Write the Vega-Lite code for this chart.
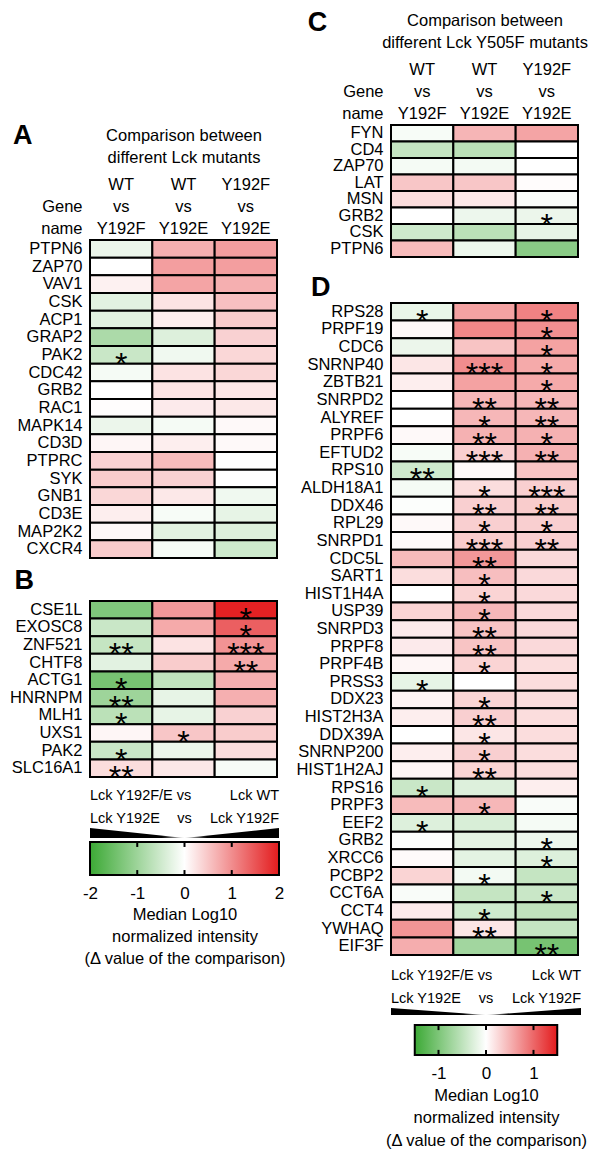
{
  "$schema": "https://vega.github.io/schema/vega-lite/v6.json",
  "padding": {"left": 9, "top": 9, "right": 0, "bottom": 0},
  "background": "white",
  "config": {
    "view": {"stroke": null},
    "font": "Liberation Sans",
    "axis": {"labelFont": "Liberation Sans", "titleFont": "Liberation Sans", "labelFontSize": 16.5, "titleFontSize": 16.5, "titleFontWeight": "normal", "labelColor": "#000", "titleColor": "#000", "ticks": false, "tickSize": 0, "domain": false, "grid": false, "labelOverlap": false},
    "title": {"font": "Liberation Sans", "fontSize": 27, "fontWeight": "bold", "anchor": "start", "frame": "bounds", "color": "#000"},
    "text": {"font": "Liberation Sans", "color": "#000"}
  },
  "datasets": {
    "A": [
      {"gene":"PTPN6","comp":"WT|vs|Y192F","value":-0.2,"stars":""},{"gene":"PTPN6","comp":"WT|vs|Y192E","value":0.7,"stars":""},{"gene":"PTPN6","comp":"Y192F|vs|Y192E","value":0.85,"stars":""},
      {"gene":"ZAP70","comp":"WT|vs|Y192F","value":0,"stars":""},{"gene":"ZAP70","comp":"WT|vs|Y192E","value":0.85,"stars":""},{"gene":"ZAP70","comp":"Y192F|vs|Y192E","value":0.85,"stars":""},
      {"gene":"VAV1","comp":"WT|vs|Y192F","value":0.12,"stars":""},{"gene":"VAV1","comp":"WT|vs|Y192E","value":0.8,"stars":""},{"gene":"VAV1","comp":"Y192F|vs|Y192E","value":0.7,"stars":""},
      {"gene":"CSK","comp":"WT|vs|Y192F","value":-0.3,"stars":""},{"gene":"CSK","comp":"WT|vs|Y192E","value":0.25,"stars":""},{"gene":"CSK","comp":"Y192F|vs|Y192E","value":0.55,"stars":""},
      {"gene":"ACP1","comp":"WT|vs|Y192F","value":-0.3,"stars":""},{"gene":"ACP1","comp":"WT|vs|Y192E","value":0.15,"stars":""},{"gene":"ACP1","comp":"Y192F|vs|Y192E","value":0.45,"stars":""},
      {"gene":"GRAP2","comp":"WT|vs|Y192F","value":-0.85,"stars":""},{"gene":"GRAP2","comp":"WT|vs|Y192E","value":-0.35,"stars":""},{"gene":"GRAP2","comp":"Y192F|vs|Y192E","value":0.4,"stars":""},
      {"gene":"PAK2","comp":"WT|vs|Y192F","value":-0.55,"stars":"*"},{"gene":"PAK2","comp":"WT|vs|Y192E","value":-0.15,"stars":""},{"gene":"PAK2","comp":"Y192F|vs|Y192E","value":0.35,"stars":""},
      {"gene":"CDC42","comp":"WT|vs|Y192F","value":-0.1,"stars":""},{"gene":"CDC42","comp":"WT|vs|Y192E","value":0.25,"stars":""},{"gene":"CDC42","comp":"Y192F|vs|Y192E","value":0.35,"stars":""},
      {"gene":"GRB2","comp":"WT|vs|Y192F","value":0,"stars":""},{"gene":"GRB2","comp":"WT|vs|Y192E","value":0.25,"stars":""},{"gene":"GRB2","comp":"Y192F|vs|Y192E","value":0.22,"stars":""},
      {"gene":"RAC1","comp":"WT|vs|Y192F","value":0.02,"stars":""},{"gene":"RAC1","comp":"WT|vs|Y192E","value":0.18,"stars":""},{"gene":"RAC1","comp":"Y192F|vs|Y192E","value":0.2,"stars":""},
      {"gene":"MAPK14","comp":"WT|vs|Y192F","value":-0.2,"stars":""},{"gene":"MAPK14","comp":"WT|vs|Y192E","value":-0.1,"stars":""},{"gene":"MAPK14","comp":"Y192F|vs|Y192E","value":0.05,"stars":""},
      {"gene":"CD3D","comp":"WT|vs|Y192F","value":0.08,"stars":""},{"gene":"CD3D","comp":"WT|vs|Y192E","value":0.15,"stars":""},{"gene":"CD3D","comp":"Y192F|vs|Y192E","value":0.05,"stars":""},
      {"gene":"PTPRC","comp":"WT|vs|Y192F","value":0.4,"stars":""},{"gene":"PTPRC","comp":"WT|vs|Y192E","value":0.6,"stars":""},{"gene":"PTPRC","comp":"Y192F|vs|Y192E","value":0,"stars":""},
      {"gene":"SYK","comp":"WT|vs|Y192F","value":0.45,"stars":""},{"gene":"SYK","comp":"WT|vs|Y192E","value":0.4,"stars":""},{"gene":"SYK","comp":"Y192F|vs|Y192E","value":0,"stars":""},
      {"gene":"GNB1","comp":"WT|vs|Y192F","value":0.35,"stars":""},{"gene":"GNB1","comp":"WT|vs|Y192E","value":0.2,"stars":""},{"gene":"GNB1","comp":"Y192F|vs|Y192E","value":-0.15,"stars":""},
      {"gene":"CD3E","comp":"WT|vs|Y192F","value":0.15,"stars":""},{"gene":"CD3E","comp":"WT|vs|Y192E","value":-0.08,"stars":""},{"gene":"CD3E","comp":"Y192F|vs|Y192E","value":-0.25,"stars":""},
      {"gene":"MAP2K2","comp":"WT|vs|Y192F","value":0.06,"stars":""},{"gene":"MAP2K2","comp":"WT|vs|Y192E","value":-0.3,"stars":""},{"gene":"MAP2K2","comp":"Y192F|vs|Y192E","value":-0.35,"stars":""},
      {"gene":"CXCR4","comp":"WT|vs|Y192F","value":0.45,"stars":""},{"gene":"CXCR4","comp":"WT|vs|Y192E","value":-0.08,"stars":""},{"gene":"CXCR4","comp":"Y192F|vs|Y192E","value":-0.5,"stars":""}
    ],
    "B": [
      {"gene":"CSE1L","comp":"WT|vs|Y192F","value":-1.3,"stars":""},{"gene":"CSE1L","comp":"WT|vs|Y192E","value":0.9,"stars":""},{"gene":"CSE1L","comp":"Y192F|vs|Y192E","value":1.95,"stars":"*"},
      {"gene":"EXOSC8","comp":"WT|vs|Y192F","value":-0.55,"stars":""},{"gene":"EXOSC8","comp":"WT|vs|Y192E","value":0.75,"stars":""},{"gene":"EXOSC8","comp":"Y192F|vs|Y192E","value":1.4,"stars":"*"},
      {"gene":"ZNF521","comp":"WT|vs|Y192F","value":-0.6,"stars":"**"},{"gene":"ZNF521","comp":"WT|vs|Y192E","value":0.25,"stars":""},{"gene":"ZNF521","comp":"Y192F|vs|Y192E","value":0.95,"stars":"***"},
      {"gene":"CHTF8","comp":"WT|vs|Y192F","value":-0.3,"stars":""},{"gene":"CHTF8","comp":"WT|vs|Y192E","value":0.45,"stars":""},{"gene":"CHTF8","comp":"Y192F|vs|Y192E","value":0.75,"stars":"**"},
      {"gene":"ACTG1","comp":"WT|vs|Y192F","value":-1.4,"stars":"*"},{"gene":"ACTG1","comp":"WT|vs|Y192E","value":-0.65,"stars":""},{"gene":"ACTG1","comp":"Y192F|vs|Y192E","value":0.7,"stars":""},
      {"gene":"HNRNPM","comp":"WT|vs|Y192F","value":-1.0,"stars":"**"},{"gene":"HNRNPM","comp":"WT|vs|Y192E","value":-0.25,"stars":""},{"gene":"HNRNPM","comp":"Y192F|vs|Y192E","value":0.7,"stars":""},
      {"gene":"MLH1","comp":"WT|vs|Y192F","value":-0.7,"stars":"*"},{"gene":"MLH1","comp":"WT|vs|Y192E","value":-0.25,"stars":""},{"gene":"MLH1","comp":"Y192F|vs|Y192E","value":0.4,"stars":""},
      {"gene":"UXS1","comp":"WT|vs|Y192F","value":0.08,"stars":""},{"gene":"UXS1","comp":"WT|vs|Y192E","value":0.5,"stars":"*"},{"gene":"UXS1","comp":"Y192F|vs|Y192E","value":0.45,"stars":""},
      {"gene":"PAK2","comp":"WT|vs|Y192F","value":-0.55,"stars":"*"},{"gene":"PAK2","comp":"WT|vs|Y192E","value":-0.2,"stars":""},{"gene":"PAK2","comp":"Y192F|vs|Y192E","value":0.3,"stars":""},
      {"gene":"SLC16A1","comp":"WT|vs|Y192F","value":0.3,"stars":"**"},{"gene":"SLC16A1","comp":"WT|vs|Y192E","value":0.2,"stars":""},{"gene":"SLC16A1","comp":"Y192F|vs|Y192E","value":-0.08,"stars":""}
    ],
    "C": [
      {"gene":"FYN","comp":"WT|vs|Y192F","value":-0.08,"stars":""},{"gene":"FYN","comp":"WT|vs|Y192E","value":0.65,"stars":""},{"gene":"FYN","comp":"Y192F|vs|Y192E","value":0.8,"stars":""},
      {"gene":"CD4","comp":"WT|vs|Y192F","value":-0.6,"stars":""},{"gene":"CD4","comp":"WT|vs|Y192E","value":-0.7,"stars":""},{"gene":"CD4","comp":"Y192F|vs|Y192E","value":0,"stars":""},
      {"gene":"ZAP70","comp":"WT|vs|Y192F","value":-0.1,"stars":""},{"gene":"ZAP70","comp":"WT|vs|Y192E","value":-0.12,"stars":""},{"gene":"ZAP70","comp":"Y192F|vs|Y192E","value":0,"stars":""},
      {"gene":"LAT","comp":"WT|vs|Y192F","value":0.5,"stars":""},{"gene":"LAT","comp":"WT|vs|Y192E","value":0.5,"stars":""},{"gene":"LAT","comp":"Y192F|vs|Y192E","value":0.03,"stars":""},
      {"gene":"MSN","comp":"WT|vs|Y192F","value":0.3,"stars":""},{"gene":"MSN","comp":"WT|vs|Y192E","value":0.2,"stars":""},{"gene":"MSN","comp":"Y192F|vs|Y192E","value":-0.06,"stars":""},
      {"gene":"GRB2","comp":"WT|vs|Y192F","value":0,"stars":""},{"gene":"GRB2","comp":"WT|vs|Y192E","value":-0.18,"stars":""},{"gene":"GRB2","comp":"Y192F|vs|Y192E","value":-0.2,"stars":"*"},
      {"gene":"CSK","comp":"WT|vs|Y192F","value":-0.5,"stars":""},{"gene":"CSK","comp":"WT|vs|Y192E","value":-0.7,"stars":""},{"gene":"CSK","comp":"Y192F|vs|Y192E","value":-0.25,"stars":""},
      {"gene":"PTPN6","comp":"WT|vs|Y192F","value":0.6,"stars":""},{"gene":"PTPN6","comp":"WT|vs|Y192E","value":-0.18,"stars":""},{"gene":"PTPN6","comp":"Y192F|vs|Y192E","value":-1.2,"stars":""}
    ],
    "D": [
      {"gene":"RPS28","comp":"WT|vs|Y192F","value":-0.22,"stars":"*"},{"gene":"RPS28","comp":"WT|vs|Y192E","value":0.82,"stars":""},{"gene":"RPS28","comp":"Y192F|vs|Y192E","value":1.1,"stars":"*"},
      {"gene":"PRPF19","comp":"WT|vs|Y192F","value":0.06,"stars":""},{"gene":"PRPF19","comp":"WT|vs|Y192E","value":1.05,"stars":""},{"gene":"PRPF19","comp":"Y192F|vs|Y192E","value":0.98,"stars":"*"},
      {"gene":"CDC6","comp":"WT|vs|Y192F","value":-0.2,"stars":""},{"gene":"CDC6","comp":"WT|vs|Y192E","value":0.52,"stars":""},{"gene":"CDC6","comp":"Y192F|vs|Y192E","value":0.82,"stars":"*"},
      {"gene":"SNRNP40","comp":"WT|vs|Y192F","value":0.22,"stars":""},{"gene":"SNRNP40","comp":"WT|vs|Y192E","value":1.0,"stars":"***"},{"gene":"SNRNP40","comp":"Y192F|vs|Y192E","value":0.75,"stars":"*"},
      {"gene":"ZBTB21","comp":"WT|vs|Y192F","value":0.15,"stars":""},{"gene":"ZBTB21","comp":"WT|vs|Y192E","value":0.82,"stars":""},{"gene":"ZBTB21","comp":"Y192F|vs|Y192E","value":0.75,"stars":"*"},
      {"gene":"SNRPD2","comp":"WT|vs|Y192F","value":0,"stars":""},{"gene":"SNRPD2","comp":"WT|vs|Y192E","value":0.63,"stars":"**"},{"gene":"SNRPD2","comp":"Y192F|vs|Y192E","value":0.63,"stars":"**"},
      {"gene":"ALYREF","comp":"WT|vs|Y192F","value":0,"stars":""},{"gene":"ALYREF","comp":"WT|vs|Y192E","value":0.63,"stars":"*"},{"gene":"ALYREF","comp":"Y192F|vs|Y192E","value":0.63,"stars":"**"},
      {"gene":"PRPF6","comp":"WT|vs|Y192F","value":0.05,"stars":""},{"gene":"PRPF6","comp":"WT|vs|Y192E","value":0.68,"stars":"**"},{"gene":"PRPF6","comp":"Y192F|vs|Y192E","value":0.68,"stars":"*"},
      {"gene":"EFTUD2","comp":"WT|vs|Y192F","value":-0.08,"stars":""},{"gene":"EFTUD2","comp":"WT|vs|Y192E","value":0.42,"stars":"***"},{"gene":"EFTUD2","comp":"Y192F|vs|Y192E","value":0.68,"stars":"**"},
      {"gene":"RPS10","comp":"WT|vs|Y192F","value":-0.5,"stars":"**"},{"gene":"RPS10","comp":"WT|vs|Y192E","value":0.05,"stars":""},{"gene":"RPS10","comp":"Y192F|vs|Y192E","value":0.52,"stars":""},
      {"gene":"ALDH18A1","comp":"WT|vs|Y192F","value":-0.1,"stars":""},{"gene":"ALDH18A1","comp":"WT|vs|Y192E","value":0.3,"stars":"*"},{"gene":"ALDH18A1","comp":"Y192F|vs|Y192E","value":0.42,"stars":"***"},
      {"gene":"DDX46","comp":"WT|vs|Y192F","value":-0.03,"stars":""},{"gene":"DDX46","comp":"WT|vs|Y192E","value":0.42,"stars":"**"},{"gene":"DDX46","comp":"Y192F|vs|Y192E","value":0.45,"stars":"**"},
      {"gene":"RPL29","comp":"WT|vs|Y192F","value":0.05,"stars":""},{"gene":"RPL29","comp":"WT|vs|Y192E","value":0.42,"stars":"*"},{"gene":"RPL29","comp":"Y192F|vs|Y192E","value":0.42,"stars":"*"},
      {"gene":"SNRPD1","comp":"WT|vs|Y192F","value":0.04,"stars":""},{"gene":"SNRPD1","comp":"WT|vs|Y192E","value":0.45,"stars":"***"},{"gene":"SNRPD1","comp":"Y192F|vs|Y192E","value":0.42,"stars":"**"},
      {"gene":"CDC5L","comp":"WT|vs|Y192F","value":0.6,"stars":""},{"gene":"CDC5L","comp":"WT|vs|Y192E","value":0.9,"stars":"**"},{"gene":"CDC5L","comp":"Y192F|vs|Y192E","value":0.33,"stars":""},
      {"gene":"SART1","comp":"WT|vs|Y192F","value":0.3,"stars":""},{"gene":"SART1","comp":"WT|vs|Y192E","value":0.57,"stars":"*"},{"gene":"SART1","comp":"Y192F|vs|Y192E","value":0.33,"stars":""},
      {"gene":"HIST1H4A","comp":"WT|vs|Y192F","value":0,"stars":""},{"gene":"HIST1H4A","comp":"WT|vs|Y192E","value":0.38,"stars":"*"},{"gene":"HIST1H4A","comp":"Y192F|vs|Y192E","value":0.33,"stars":""},
      {"gene":"USP39","comp":"WT|vs|Y192F","value":0.38,"stars":""},{"gene":"USP39","comp":"WT|vs|Y192E","value":0.63,"stars":"*"},{"gene":"USP39","comp":"Y192F|vs|Y192E","value":0.33,"stars":""},
      {"gene":"SNRPD3","comp":"WT|vs|Y192F","value":0.18,"stars":""},{"gene":"SNRPD3","comp":"WT|vs|Y192E","value":0.52,"stars":"**"},{"gene":"SNRPD3","comp":"Y192F|vs|Y192E","value":0.33,"stars":""},
      {"gene":"PRPF8","comp":"WT|vs|Y192F","value":0.18,"stars":""},{"gene":"PRPF8","comp":"WT|vs|Y192E","value":0.52,"stars":"**"},{"gene":"PRPF8","comp":"Y192F|vs|Y192E","value":0.33,"stars":""},
      {"gene":"PRPF4B","comp":"WT|vs|Y192F","value":0.08,"stars":""},{"gene":"PRPF4B","comp":"WT|vs|Y192E","value":0.38,"stars":"*"},{"gene":"PRPF4B","comp":"Y192F|vs|Y192E","value":0.3,"stars":""},
      {"gene":"PRSS3","comp":"WT|vs|Y192F","value":-0.25,"stars":"*"},{"gene":"PRSS3","comp":"WT|vs|Y192E","value":0,"stars":""},{"gene":"PRSS3","comp":"Y192F|vs|Y192E","value":0.3,"stars":""},
      {"gene":"DDX23","comp":"WT|vs|Y192F","value":0.1,"stars":""},{"gene":"DDX23","comp":"WT|vs|Y192E","value":0.38,"stars":"*"},{"gene":"DDX23","comp":"Y192F|vs|Y192E","value":0.3,"stars":""},
      {"gene":"HIST2H3A","comp":"WT|vs|Y192F","value":0.15,"stars":""},{"gene":"HIST2H3A","comp":"WT|vs|Y192E","value":0.42,"stars":"**"},{"gene":"HIST2H3A","comp":"Y192F|vs|Y192E","value":0.3,"stars":""},
      {"gene":"DDX39A","comp":"WT|vs|Y192F","value":0,"stars":""},{"gene":"DDX39A","comp":"WT|vs|Y192E","value":0.22,"stars":"*"},{"gene":"DDX39A","comp":"Y192F|vs|Y192E","value":0.3,"stars":""},
      {"gene":"SNRNP200","comp":"WT|vs|Y192F","value":0.15,"stars":""},{"gene":"SNRNP200","comp":"WT|vs|Y192E","value":0.42,"stars":"*"},{"gene":"SNRNP200","comp":"Y192F|vs|Y192E","value":0.3,"stars":""},
      {"gene":"HIST1H2AJ","comp":"WT|vs|Y192F","value":0.08,"stars":""},{"gene":"HIST1H2AJ","comp":"WT|vs|Y192E","value":0.38,"stars":"**"},{"gene":"HIST1H2AJ","comp":"Y192F|vs|Y192E","value":0.3,"stars":""},
      {"gene":"RPS16","comp":"WT|vs|Y192F","value":-0.55,"stars":"*"},{"gene":"RPS16","comp":"WT|vs|Y192E","value":-0.35,"stars":""},{"gene":"RPS16","comp":"Y192F|vs|Y192E","value":0.15,"stars":""},
      {"gene":"PRPF3","comp":"WT|vs|Y192F","value":0.6,"stars":""},{"gene":"PRPF3","comp":"WT|vs|Y192E","value":0.63,"stars":"*"},{"gene":"PRPF3","comp":"Y192F|vs|Y192E","value":-0.06,"stars":""},
      {"gene":"EEF2","comp":"WT|vs|Y192F","value":-0.35,"stars":"*"},{"gene":"EEF2","comp":"WT|vs|Y192E","value":-0.4,"stars":""},{"gene":"EEF2","comp":"Y192F|vs|Y192E","value":-0.1,"stars":""},
      {"gene":"GRB2","comp":"WT|vs|Y192F","value":-0.03,"stars":""},{"gene":"GRB2","comp":"WT|vs|Y192E","value":-0.28,"stars":""},{"gene":"GRB2","comp":"Y192F|vs|Y192E","value":-0.18,"stars":"*"},
      {"gene":"XRCC6","comp":"WT|vs|Y192F","value":0.04,"stars":""},{"gene":"XRCC6","comp":"WT|vs|Y192E","value":-0.28,"stars":""},{"gene":"XRCC6","comp":"Y192F|vs|Y192E","value":-0.35,"stars":"*"},
      {"gene":"PCBP2","comp":"WT|vs|Y192F","value":0.38,"stars":""},{"gene":"PCBP2","comp":"WT|vs|Y192E","value":-0.12,"stars":"*"},{"gene":"PCBP2","comp":"Y192F|vs|Y192E","value":-0.6,"stars":""},
      {"gene":"CCT6A","comp":"WT|vs|Y192F","value":-0.06,"stars":""},{"gene":"CCT6A","comp":"WT|vs|Y192E","value":-0.6,"stars":""},{"gene":"CCT6A","comp":"Y192F|vs|Y192E","value":-0.55,"stars":"*"},
      {"gene":"CCT4","comp":"WT|vs|Y192F","value":0.18,"stars":""},{"gene":"CCT4","comp":"WT|vs|Y192E","value":-0.5,"stars":"*"},{"gene":"CCT4","comp":"Y192F|vs|Y192E","value":-0.65,"stars":""},
      {"gene":"YWHAQ","comp":"WT|vs|Y192F","value":0.93,"stars":""},{"gene":"YWHAQ","comp":"WT|vs|Y192E","value":0.22,"stars":"**"},{"gene":"YWHAQ","comp":"Y192F|vs|Y192E","value":-0.6,"stars":""},
      {"gene":"EIF3F","comp":"WT|vs|Y192F","value":0.72,"stars":""},{"gene":"EIF3F","comp":"WT|vs|Y192E","value":-0.95,"stars":""},{"gene":"EIF3F","comp":"Y192F|vs|Y192E","value":-1.4,"stars":"**"}
    ],
    "legendText": [
      {"side":"left","line":1,"label":"Lck Y192F/E vs"},
      {"side":"right","line":1,"label":"Lck WT"},
      {"side":"left","line":2,"label":"Lck Y192E"},
      {"side":"center","line":2,"label":"vs"},
      {"side":"right","line":2,"label":"Lck Y192F"}
    ],
    "wedge": [{"pos":-1,"h":1},{"pos":0,"h":0},{"pos":1,"h":1}],
    "barB": [{"lo":-2,"hi":2}],
    "barD": [{"lo":-1.5,"hi":1.5}],
    "ticks": [{"t":-1},{"t":0},{"t":1}],
    "empty": []
  },
  "spacing": 9,
  "resolve": {"scale": {"color": "independent", "x": "independent", "y": "independent"}},
  "hconcat": [
    {
      "bounds": "flush",
      "spacing": 0,
      "resolve": {"scale": {"color": "independent", "x": "independent", "y": "independent"}},
      "vconcat": [
        {"width": 189, "height": 115, "data": {"name": "empty"}, "mark": "point"},
        {
          "width": 187, "height": 318,
          "data": {"name": "A"},
          "title": {"text": "A", "offset": 0, "dy": 23, "dx": -4},
          "encoding": {
            "x": {"field": "comp", "type": "nominal", "sort": null, "scale": {"paddingInner": 0, "paddingOuter": 0},
              "axis": {"orient": "top", "title": ["Comparison between", "different Lck mutants"], "labelExpr": "split(datum.label, '|')", "labelAngle": 0, "labelLineHeight": 22, "labelBaseline": "top", "labelPadding": 63.5, "titlePadding": 11.5, "titleLineHeight": 22}},
            "y": {"field": "gene", "type": "nominal", "sort": null, "scale": {"paddingInner": 0, "paddingOuter": 0},
              "axis": {"title": ["Gene", "name"], "titleAngle": 0, "titleAlign": "right", "titleBaseline": "top", "titleX": -8, "titleY": -41.5, "titleLineHeight": 22, "labelPadding": 8}}
          },
          "layer": [
            {"mark": {"type": "rect", "stroke": "#000", "strokeWidth": 2}, "encoding": {"fill": {"field": "value", "type": "quantitative", "scale": {"domain": [-2, 0, 2], "range": ["#3ca935", "#ffffff", "#e31b1d"], "clamp": true, "interpolate": "rgb"}, "legend": null}}},
            {"mark": {"type": "text", "fontSize": 32, "baseline": "alphabetic", "dy": 20}, "encoding": {"text": {"field": "stars"}}}
          ]
        },
        {"width": 189, "height": 43, "data": {"name": "empty"}, "mark": "point"},
        {
          "width": 187, "height": 176,
          "data": {"name": "B"},
          "title": {"text": "B", "offset": 5, "dx": 5},
          "encoding": {
            "x": {"field": "comp", "type": "nominal", "sort": null, "scale": {"paddingInner": 0, "paddingOuter": 0}, "axis": null},
            "y": {"field": "gene", "type": "nominal", "sort": null, "scale": {"paddingInner": 0, "paddingOuter": 0}, "axis": {"title": null, "labelPadding": 8}}
          },
          "layer": [
            {"mark": {"type": "rect", "stroke": "#000", "strokeWidth": 2}, "encoding": {"fill": {"field": "value", "type": "quantitative", "scale": {"domain": [-2, 0, 2], "range": ["#3ca935", "#ffffff", "#e31b1d"], "clamp": true, "interpolate": "rgb"}, "legend": null}}},
            {"mark": {"type": "text", "fontSize": 32, "baseline": "alphabetic", "dy": 20}, "encoding": {"text": {"field": "stars"}}}
          ]
        },
        {"width": 189, "height": 12.25, "data": {"name": "empty"}, "mark": "point"},
        {
          "width": 189, "height": 34.5,
          "data": {"name": "legendText"},
          "encoding": {"y": {"field": "line", "type": "ordinal", "scale": {"type": "point", "padding": 0.25}, "axis": null}, "text": {"field": "label"}},
          "layer": [
            {"transform": [{"filter": "datum.side == 'left'"}], "mark": {"type": "text", "align": "left", "fontSize": 14.5}, "encoding": {"x": {"datum": -1, "type": "quantitative", "scale": {"domain": [-1, 1]}, "axis": null}}},
            {"transform": [{"filter": "datum.side == 'center'"}], "mark": {"type": "text", "align": "center", "fontSize": 14.5}, "encoding": {"x": {"datum": 0, "type": "quantitative", "scale": {"domain": [-1, 1]}, "axis": null}}},
            {"transform": [{"filter": "datum.side == 'right'"}], "mark": {"type": "text", "align": "right", "fontSize": 14.5}, "encoding": {"x": {"datum": 1, "type": "quantitative", "scale": {"domain": [-1, 1]}, "axis": null}}}
          ]
        },
        {"width": 189, "height": 2.25, "data": {"name": "empty"}, "mark": "point"},
        {
          "width": 189, "height": 10,
          "data": {"name": "wedge"},
          "mark": {"type": "area", "fill": {"gradient": "linear", "x1": 0, "y1": 0, "x2": 1, "y2": 0, "stops": [{"offset": 0, "color": "#000000"}, {"offset": 0.38, "color": "#000000"}, {"offset": 0.5, "color": "#dddddd"}, {"offset": 0.62, "color": "#000000"}, {"offset": 1, "color": "#000000"}]}},
          "encoding": {
            "x": {"field": "pos", "type": "quantitative", "scale": {"domain": [-1, 1]}, "axis": null},
            "y": {"field": "h", "type": "quantitative", "scale": {"domain": [0, 1]}, "axis": null}
          }
        },
        {"width": 189, "height": 4, "data": {"name": "empty"}, "mark": "point"},
        {
          "width": 189, "height": 33,
          "layer": [
            {
              "data": {"name": "barB"},
              "mark": {"type": "rect", "stroke": "#000", "strokeWidth": 2, "fill": {"gradient": "linear", "x1": 0, "y1": 0, "x2": 1, "y2": 0, "stops": [{"offset": 0, "color": "#3ca935"}, {"offset": 0.5, "color": "#ffffff"}, {"offset": 1, "color": "#e31b1d"}]}},
              "encoding": {
                "x": {"field": "lo", "type": "quantitative", "scale": {"domain": [-2, 2]},
                  "axis": {"orient": "bottom", "values": [-2, -1, 0, 1, 2], "labelExpr": "'' + datum.value", "labelFontSize": 17, "labelPadding": 10, "labelFlush": false, "title": ["Median Log10", "normalized intensity", "(Δ value of the comparison)"], "titlePadding": 5, "titleLineHeight": 22}},
                "x2": {"field": "hi"},
                "y": {"datum": 0, "type": "quantitative", "scale": {"domain": [0, 1]}, "axis": null},
                "y2": {"datum": 1}
              }
            },
            {"data": {"name": "ticks"}, "mark": {"type": "rule", "color": "#000", "strokeWidth": 2}, "encoding": {"x": {"field": "t", "type": "quantitative"}, "y": {"datum": 0, "type": "quantitative"}, "y2": {"datum": 0.15}}},
            {"data": {"name": "ticks"}, "mark": {"type": "rule", "color": "#000", "strokeWidth": 2}, "encoding": {"x": {"field": "t", "type": "quantitative"}, "y": {"datum": 0.85, "type": "quantitative"}, "y2": {"datum": 1}}}
          ]
        }
      ]
    },
    {
      "bounds": "flush",
      "spacing": 0,
      "resolve": {"scale": {"color": "independent", "x": "independent", "y": "independent"}},
      "vconcat": [
        {
          "width": 187, "height": 132,
          "data": {"name": "C"},
          "title": {"text": "C", "offset": 0, "dy": 25, "dx": -22},
          "encoding": {
            "x": {"field": "comp", "type": "nominal", "sort": null, "scale": {"paddingInner": 0, "paddingOuter": 0},
              "axis": {"orient": "top", "title": ["Comparison between", "different Lck Y505F mutants"], "labelExpr": "split(datum.label, '|')", "labelAngle": 0, "labelLineHeight": 22, "labelBaseline": "top", "labelPadding": 63.5, "titlePadding": 11.5, "titleLineHeight": 22}},
            "y": {"field": "gene", "type": "nominal", "sort": null, "scale": {"paddingInner": 0, "paddingOuter": 0},
              "axis": {"title": ["Gene", "name"], "titleAngle": 0, "titleAlign": "right", "titleBaseline": "top", "titleX": -8, "titleY": -41.5, "titleLineHeight": 22, "labelPadding": 8}}
          },
          "layer": [
            {"mark": {"type": "rect", "stroke": "#000", "strokeWidth": 2}, "encoding": {"fill": {"field": "value", "type": "quantitative", "scale": {"domain": [-2, 0, 2], "range": ["#3ca935", "#ffffff", "#e31b1d"], "clamp": true, "interpolate": "rgb"}, "legend": null}}},
            {"mark": {"type": "text", "fontSize": 32, "baseline": "alphabetic", "dy": 20}, "encoding": {"text": {"field": "stars"}}}
          ]
        },
        {"width": 190, "height": 46, "data": {"name": "empty"}, "mark": "point"},
        {
          "width": 187, "height": 652,
          "data": {"name": "D"},
          "title": {"text": "D", "offset": 0, "dx": 15},
          "encoding": {
            "x": {"field": "comp", "type": "nominal", "sort": null, "scale": {"paddingInner": 0, "paddingOuter": 0}, "axis": null},
            "y": {"field": "gene", "type": "nominal", "sort": null, "scale": {"paddingInner": 0, "paddingOuter": 0}, "axis": {"title": null, "labelPadding": 8}}
          },
          "layer": [
            {"mark": {"type": "rect", "stroke": "#000", "strokeWidth": 2}, "encoding": {"fill": {"field": "value", "type": "quantitative", "scale": {"domain": [-1.5, 0, 1.5], "range": ["#3ca935", "#ffffff", "#e31b1d"], "clamp": true, "interpolate": "rgb"}, "legend": null}}},
            {"mark": {"type": "text", "fontSize": 32, "baseline": "alphabetic", "dy": 20}, "encoding": {"text": {"field": "stars"}}}
          ]
        },
        {"width": 190, "height": 14.25, "data": {"name": "empty"}, "mark": "point"},
        {
          "width": 190, "height": 34.5,
          "data": {"name": "legendText"},
          "encoding": {"y": {"field": "line", "type": "ordinal", "scale": {"type": "point", "padding": 0.25}, "axis": null}, "text": {"field": "label"}},
          "layer": [
            {"transform": [{"filter": "datum.side == 'left'"}], "mark": {"type": "text", "align": "left", "fontSize": 14.5}, "encoding": {"x": {"datum": -1, "type": "quantitative", "scale": {"domain": [-1, 1]}, "axis": null}}},
            {"transform": [{"filter": "datum.side == 'center'"}], "mark": {"type": "text", "align": "center", "fontSize": 14.5}, "encoding": {"x": {"datum": 0, "type": "quantitative", "scale": {"domain": [-1, 1]}, "axis": null}}},
            {"transform": [{"filter": "datum.side == 'right'"}], "mark": {"type": "text", "align": "right", "fontSize": 14.5}, "encoding": {"x": {"datum": 1, "type": "quantitative", "scale": {"domain": [-1, 1]}, "axis": null}}}
          ]
        },
        {"width": 190, "height": 3, "data": {"name": "empty"}, "mark": "point"},
        {
          "width": 190, "height": 7,
          "data": {"name": "wedge"},
          "mark": {"type": "area", "fill": {"gradient": "linear", "x1": 0, "y1": 0, "x2": 1, "y2": 0, "stops": [{"offset": 0, "color": "#000000"}, {"offset": 0.38, "color": "#000000"}, {"offset": 0.5, "color": "#dddddd"}, {"offset": 0.62, "color": "#000000"}, {"offset": 1, "color": "#000000"}]}},
          "encoding": {
            "x": {"field": "pos", "type": "quantitative", "scale": {"domain": [-1, 1]}, "axis": null},
            "y": {"field": "h", "type": "quantitative", "scale": {"domain": [0, 1]}, "axis": null}
          }
        },
        {"width": 190, "height": 9.25, "data": {"name": "empty"}, "mark": "point"},
        {
          "width": 190, "height": 30,
          "layer": [
            {
              "data": {"name": "barD"},
              "mark": {"type": "rect", "stroke": "#000", "strokeWidth": 2, "fill": {"gradient": "linear", "x1": 0, "y1": 0, "x2": 1, "y2": 0, "stops": [{"offset": 0, "color": "#3ca935"}, {"offset": 0.5, "color": "#ffffff"}, {"offset": 1, "color": "#e31b1d"}]}},
              "encoding": {
                "x": {"field": "lo", "type": "quantitative", "scale": {"domain": [-1.5, 1.5]},
                  "axis": {"orient": "bottom", "values": [-1, 0, 1], "labelExpr": "'' + datum.value", "labelFontSize": 17, "labelPadding": 10, "labelFlush": false, "title": ["Median Log10", "normalized intensity", "(Δ value of the comparison)"], "titlePadding": 6, "titleLineHeight": 22.5}},
                "x2": {"field": "hi"},
                "y": {"datum": 0, "type": "quantitative", "scale": {"domain": [0, 1]}, "axis": null},
                "y2": {"datum": 1}
              }
            },
            {"data": {"name": "ticks"}, "mark": {"type": "rule", "color": "#000", "strokeWidth": 2}, "encoding": {"x": {"field": "t", "type": "quantitative"}, "y": {"datum": 0, "type": "quantitative"}, "y2": {"datum": 0.17}}},
            {"data": {"name": "ticks"}, "mark": {"type": "rule", "color": "#000", "strokeWidth": 2}, "encoding": {"x": {"field": "t", "type": "quantitative"}, "y": {"datum": 0.83, "type": "quantitative"}, "y2": {"datum": 1}}}
          ]
        }
      ]
    }
  ]
}
